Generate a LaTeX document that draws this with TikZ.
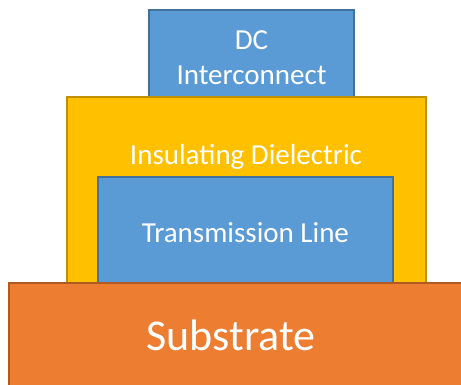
\documentclass[tikz,border=0pt]{standalone}
\usepackage{fontspec}
\setmainfont{Carlito}
\definecolor{layerblue}{HTML}{5B9BD5}
\definecolor{layerblueline}{HTML}{41719C}
\definecolor{layeryellow}{HTML}{FFC000}
\definecolor{layeryellowline}{HTML}{BF9000}
\definecolor{layerorange}{HTML}{ED7D31}
\definecolor{layerorangeline}{HTML}{AE5A21}
\tikzset{
  layer/.style={line width=1.5pt},
  caption/.style={text=white, align=center, inner sep=0pt}
}
\begin{document}
\begin{tikzpicture}[x=1pt,y=-1pt]
  \useasboundingbox (0,0) rectangle (461,385);
  \clip (0,0) rectangle (461,385);

  % interconnect on top
  \draw[layer, fill=layerblue, draw=layerblueline] (149,10) rectangle (354,110);
  \node[caption, font=\fontsize{29}{35}\selectfont] (dc) at (251.5,58) {DC\\Interconnect};

  % dielectric
  \draw[layer, fill=layeryellow, draw=layeryellowline] (67,97) rectangle (426,290);
  \node[caption, font=\fontsize{29}{35}\selectfont] (diel) at (246,157) {Insulating Dielectric};

  % transmission line
  \draw[layer, fill=layerblue, draw=layerblueline] (98,177) rectangle (393,290);
  \node[caption, font=\fontsize{29}{35}\selectfont] (tline) at (245.5,233) {Transmission Line};

  % substrate
  \draw[layer, fill=layerorange, draw=layerorangeline] (9,283) rectangle (480,400);
  \node[caption, font=\fontsize{44}{50}\selectfont] (sub) at (231,335) {Substrate};
\end{tikzpicture}
\end{document}
